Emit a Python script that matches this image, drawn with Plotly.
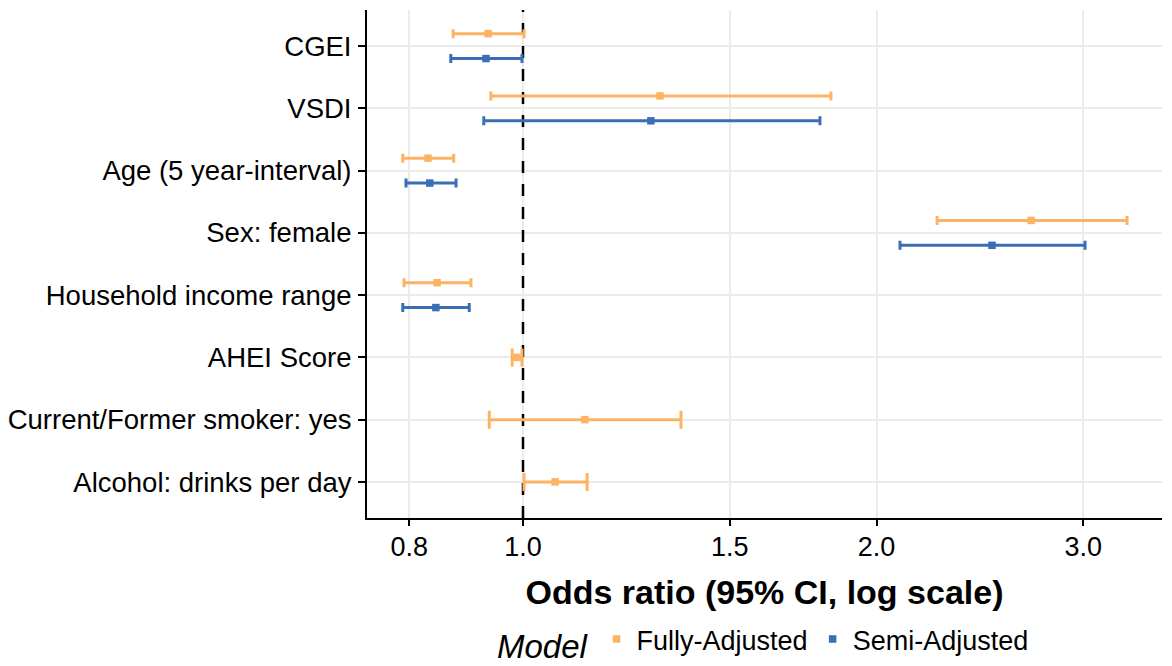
import plotly.graph_objects as go
import math

# categories, bottom to top
categories = ["Alcohol: drinks per day", "Current/Former smoker: yes", "AHEI Score",
              "Household income range", "Sex: female", "Age (5 year-interval)", "VSDI", "CGEI"]

fully_or = [1.065, 1.129, 0.988, 0.845, 2.708, 0.830, 1.308, 0.934]
fully_lo = [1.002, 0.936, 0.979, 0.792, 2.252, 0.790, 0.939, 0.872]
fully_hi = [1.134, 1.363, 0.998, 0.903, 3.268, 0.873, 1.829, 1.002]

semi_or = [None, None, None, 0.843, 2.508, 0.833, 1.285, 0.930]
semi_lo = [None, None, None, 0.790, 2.094, 0.795, 0.926, 0.868]
semi_hi = [None, None, None, 0.900, 3.010, 0.877, 1.790, 0.998]

reference_or = 1.0
x_limits = [0.7365, 3.50]
y_limits = [0.42, 8.58]
tick_vals = [0.8, 1.0, 1.5, 2.0, 3.0]
tick_text = ["0.8", "1.0", "1.5", "2.0", "3.0"]

ORANGE = "#FDB462"
BLUE = "#3A6EB5"
FONT = "Liberation Sans, Arial, sans-serif"
dodge = 0.2

fig = go.Figure()

# reference line at OR = 1
fig.add_trace(go.Scatter(
    x=[reference_or, reference_or], y=y_limits, mode="lines",
    line=dict(color="black", width=2.5, dash="12px,11px"),
    showlegend=False, hoverinfo="skip",
))


def add_series(name, orv, lo, hi, color, sign):
    groups = {True: ([], [], [], []), False: ([], [], [], [])}
    for i, v in enumerate(orv):
        if v is None:
            continue
        both = semi_or[i] is not None and fully_or[i] is not None
        xs, ys, ep, em = groups[both]
        xs.append(v)
        ys.append(i + 1 + (sign * dodge if both else 0))
        ep.append(hi[i] - v)
        em.append(v - lo[i])
    first = True
    for both, (xs, ys, ep, em) in groups.items():
        if not xs:
            continue
        fig.add_trace(go.Scatter(
            x=xs, y=ys, mode="markers", name=name, legendgroup=name,
            showlegend=first,
            marker=dict(symbol="square", size=7.5, color=color),
            error_x=dict(type="data", symmetric=False, array=ep, arrayminus=em,
                         color=color, thickness=3, width=4.5 if both else 9),
            cliponaxis=False,
        ))
        first = False


add_series("Fully-Adjusted", fully_or, fully_lo, fully_hi, ORANGE, +1)
add_series("Semi-Adjusted", semi_or, semi_lo, semi_hi, BLUE, -1)

fig.update_layout(
    width=1164, height=658,
    margin=dict(l=359, r=10, t=2, b=148, autoexpand=False),
    paper_bgcolor="white", plot_bgcolor="white",
    font=dict(family=FONT, size=27, color="black"),
    showlegend=True,
    legend=dict(
        orientation="h", xanchor="center", x=0.5, yanchor="middle", y=-0.243,
        title=dict(text="<i>Model</i>", side="left", font=dict(size=33)),
        font=dict(size=27), itemwidth=30,
    ),
    xaxis=dict(
        type="log", automargin=False,
        range=[math.log10(x_limits[0]), math.log10(x_limits[1])],
        tickvals=tick_vals, ticktext=tick_text,
        showline=True, linewidth=2, linecolor="black",
        ticks="outside", ticklen=6, tickwidth=2, tickcolor="black",
        showgrid=True, gridcolor="#EBEBEB", gridwidth=2,
        zeroline=False, tickfont=dict(size=27), ticklabelstandoff=-2,
        title=dict(text="<b>Odds ratio (95% CI, log scale)</b>", font=dict(size=34), standoff=19),
    ),
    yaxis=dict(
        range=y_limits, automargin=False,
        tickvals=list(range(1, len(categories) + 1)), ticktext=categories,
        showline=True, linewidth=2, linecolor="black",
        ticks="outside", ticklen=7, tickwidth=2, tickcolor="black",
        showgrid=True, gridcolor="#EBEBEB", gridwidth=2,
        zeroline=False, tickfont=dict(size=27.5), ticklabelstandoff=1,
    ),
)

fig.write_html("out.html")
